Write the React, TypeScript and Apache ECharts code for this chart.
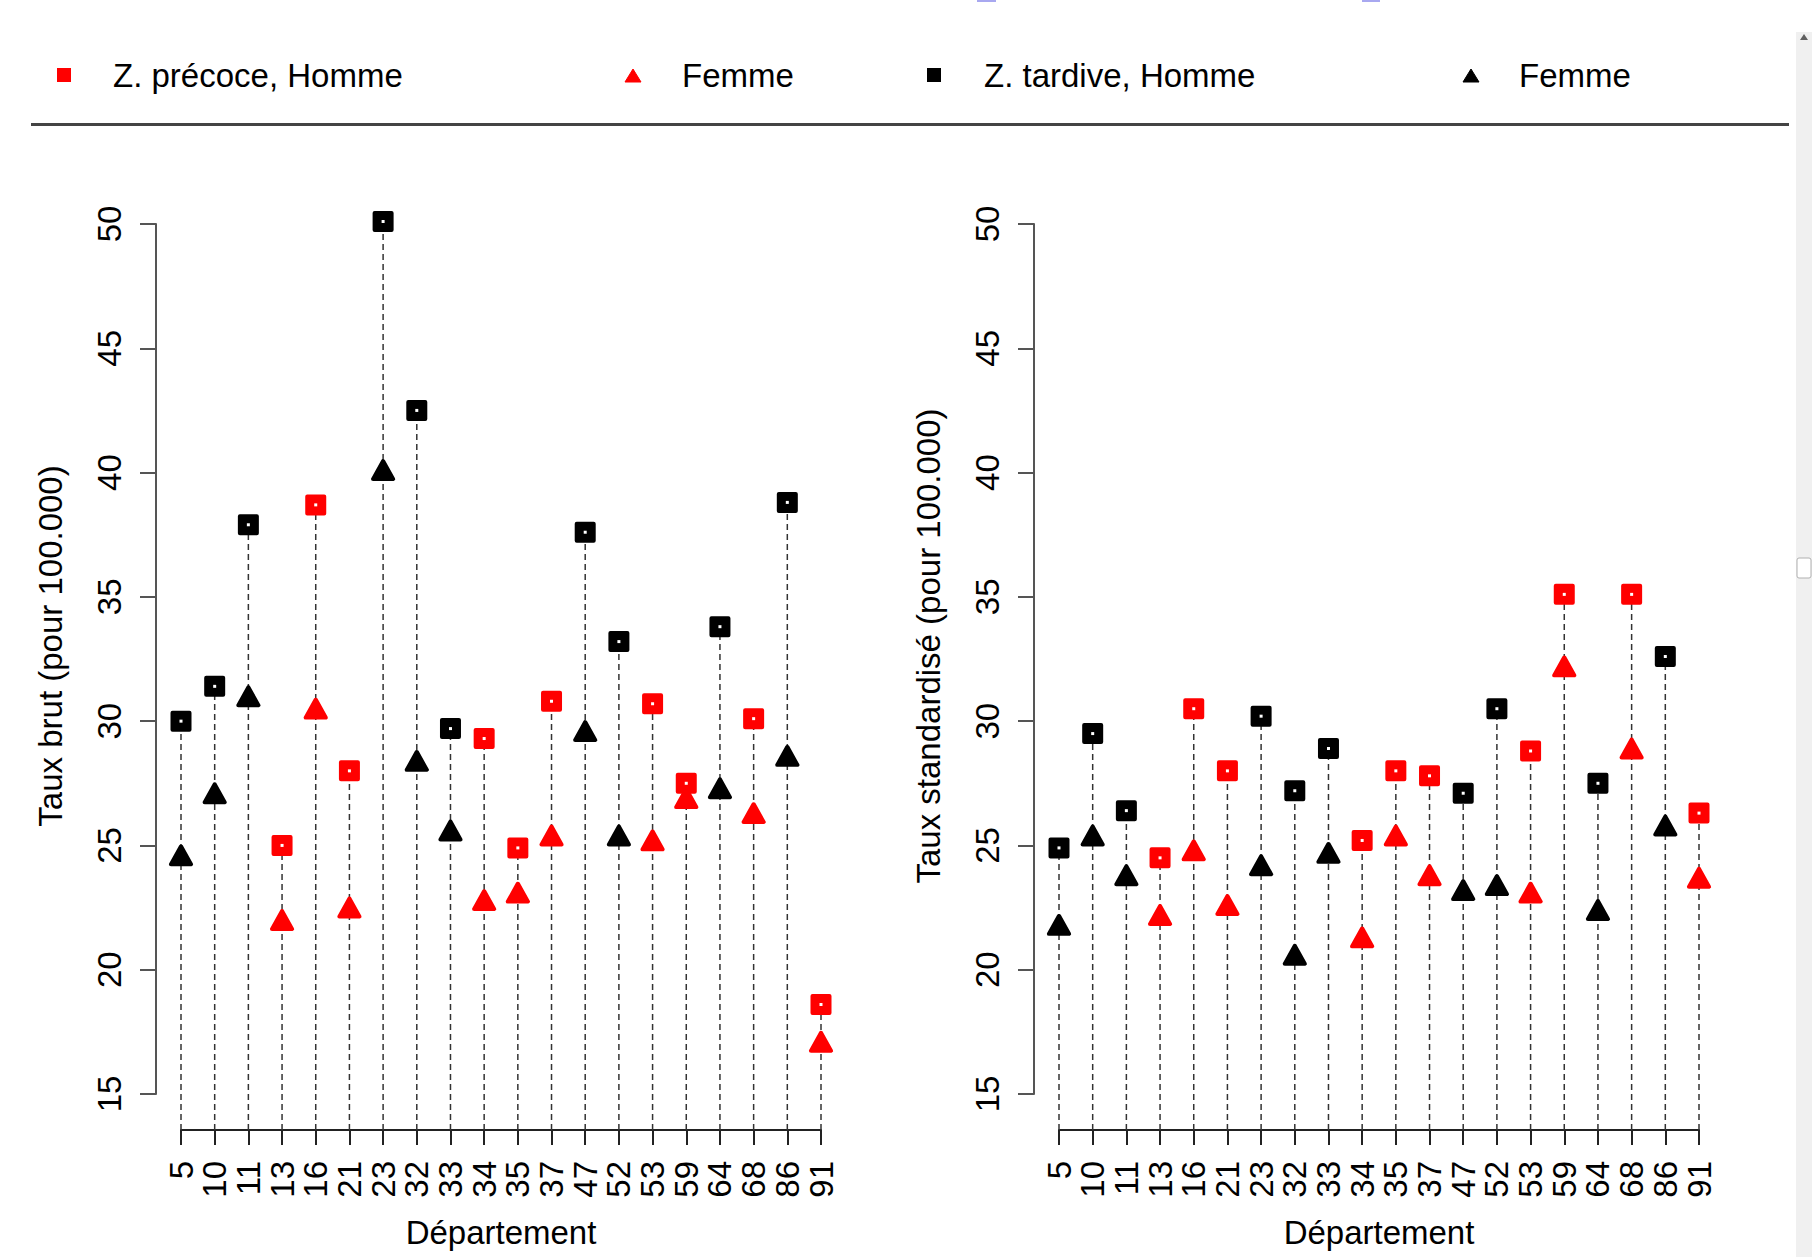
import React, { useEffect, useRef } from "react";
import * as echarts from "echarts";

// ---------- data ----------
const departements = ["5", "10", "11", "13", "16", "21", "23", "32", "33", "34", "35", "37", "47", "52", "53", "59", "64", "68", "86", "91"];
// P = Z. précoce (rouge), T = Z. tardive (noir)
const zones = ["T", "T", "T", "P", "P", "P", "T", "T", "T", "P", "P", "P", "T", "T", "P", "P", "T", "P", "T", "P"];
const tauxBrutHomme = [30.0, 31.4, 37.9, 25.0, 38.7, 28.0, 50.1, 42.5, 29.7, 29.3, 24.9, 30.8, 37.6, 33.2, 30.7, 27.5, 33.8, 30.1, 38.8, 18.6];
const tauxBrutFemme = [24.6, 27.1, 31.0, 22.0, 30.5, 22.5, 40.1, 28.4, 25.6, 22.8, 23.1, 25.4, 29.6, 25.4, 25.2, 26.9, 27.3, 26.3, 28.6, 17.1];
const tauxStdHomme = [24.9, 29.5, 26.4, 24.5, 30.5, 28.0, 30.2, 27.2, 28.9, 25.2, 28.0, 27.8, 27.1, 30.5, 28.8, 35.1, 27.5, 35.1, 32.6, 26.3];
const tauxStdFemme = [21.8, 25.4, 23.8, 22.2, 24.8, 22.6, 24.2, 20.6, 24.7, 21.3, 25.4, 23.8, 23.2, 23.4, 23.1, 32.2, 22.4, 28.9, 25.8, 23.7];
const Y_MIN = 15;
const Y_MAX = 50;
const Y_STEP = 5;
const legendLabels = ["Z. précoce, Homme", "Femme", "Z. tardive, Homme", "Femme"];
const yTitles = ["Taux brut (pour 100.000)", "Taux standardisé (pour 100.000)"];
const xTitle = "Département";

// ---------- style / layout ----------
const RED = "#ff0000";
const BLACK = "#000000";
const FONT = "'Liberation Sans', Arial, Helvetica, sans-serif";
const FS = 33;
const GRID_TOP = 224;
const GRID_H = 870;
const GRID_W = 640;
const GRID_LEFTS = [181, 1059];
const TITLE_X = [50, 928];
const TITLE_Y = 646;
const X_OFFSET = 36;
const Y_OFFSET = 25;
const bottomValue = Y_MIN - (X_OFFSET * (Y_MAX - Y_MIN)) / GRID_H;

function buildOption() {
  const panels = [
    { homme: tauxBrutHomme, femme: tauxBrutFemme },
    { homme: tauxStdHomme, femme: tauxStdFemme },
  ];
  const grid: any[] = [];
  const xAxis: any[] = [];
  const yAxis: any[] = [];
  const series: any[] = [];

  panels.forEach((p, k) => {
    grid.push({ left: GRID_LEFTS[k], top: GRID_TOP, width: GRID_W, height: GRID_H, containLabel: false });
    xAxis.push({
      gridIndex: k,
      type: "category",
      data: departements,
      boundaryGap: false,
      offset: X_OFFSET,
      axisLine: { show: true, lineStyle: { color: "#222", width: 2 } },
      axisTick: { show: true, interval: 0, length: 15, lineStyle: { color: "#222", width: 2 } },
      axisLabel: { interval: 0, rotate: 90, margin: 31, fontSize: FS, color: BLACK, fontFamily: FONT },
      splitLine: { show: false },
      name: xTitle,
      nameLocation: "middle",
      nameGap: 86,
      nameTextStyle: { fontSize: FS, color: BLACK, fontFamily: FONT },
    });
    yAxis.push({
      gridIndex: k,
      type: "value",
      min: Y_MIN,
      max: Y_MAX,
      interval: Y_STEP,
      offset: Y_OFFSET,
      axisLine: { show: true, lineStyle: { color: "#555", width: 2 } },
      axisTick: { show: true, length: 16, lineStyle: { color: "#555", width: 2 } },
      axisLabel: { rotate: 90, margin: 30, fontSize: FS, color: BLACK, fontFamily: FONT },
      splitLine: { show: false },
    });

    // dashed stems from the x axis line up to the higher point
    series.push({
      type: "custom",
      xAxisIndex: k,
      yAxisIndex: k,
      clip: false,
      silent: true,
      z: 1,
      data: departements.map((d, i) => [i, Math.max(p.homme[i], p.femme[i])]),
      renderItem: (params: any, api: any) => {
        const x = api.value(0);
        const top = api.coord([x, api.value(1)]);
        const bot = api.coord([x, bottomValue]);
        return {
          type: "line",
          shape: { x1: bot[0], y1: bot[1], x2: top[0], y2: top[1] },
          style: { stroke: "#333", lineWidth: 1.5, lineDash: [6, 4] },
        };
      },
    });

    const groups = [
      { zone: "P", color: RED, name: "Z. précoce" },
      { zone: "T", color: BLACK, name: "Z. tardive" },
    ];
    groups.forEach((g) => {
      const idx = departements.map((_, i) => i).filter((i) => zones[i] === g.zone);
      series.push({
        type: "scatter",
        name: g.name + ", Homme",
        xAxisIndex: k,
        yAxisIndex: k,
        clip: false,
        z: 3,
        symbol: "rect",
        symbolSize: 17,
        itemStyle: { color: g.color, borderColor: g.color, borderWidth: 4, borderJoin: "round", opacity: 1 },
        data: idx.map((i) => [i, p.homme[i]]),
      });
      series.push({
        type: "scatter",
        name: g.name + ", Femme",
        xAxisIndex: k,
        yAxisIndex: k,
        clip: false,
        z: 3,
        symbol: "triangle",
        symbolSize: [20, 18],
        itemStyle: { color: g.color, borderColor: g.color, borderWidth: 4, borderJoin: "round", opacity: 1 },
        data: idx.map((i) => [i, p.femme[i]]),
      });
      series.push({
        type: "scatter",
        name: g.name + " centre",
        xAxisIndex: k,
        yAxisIndex: k,
        clip: false,
        silent: true,
        z: 4,
        symbol: "rect",
        symbolSize: 3,
        itemStyle: { color: "#ffffff", opacity: 1 },
        data: idx.map((i) => [i, p.homme[i]]),
      });
    });
  });

  const textStyle = (x: number, y: number, text: string) => ({
    type: "text",
    x,
    y,
    style: { text, fill: BLACK, font: `${FS}px ${FONT}`, textAlign: "left", textVerticalAlign: "middle" },
  });
  const tri = (cx: number, color: string) => ({
    type: "polygon",
    shape: { points: [[cx - 8, 82], [cx + 8, 82], [cx, 69]] },
    style: { fill: color, stroke: color, lineWidth: 1, lineJoin: "round" },
  });

  const graphic: any[] = [
    // legend
    { type: "rect", shape: { x: 57, y: 68, width: 14, height: 14 }, style: { fill: RED } },
    textStyle(113, 75, legendLabels[0]),
    tri(633, RED),
    textStyle(682, 75, legendLabels[1]),
    { type: "rect", shape: { x: 927, y: 68, width: 14, height: 14 }, style: { fill: BLACK } },
    textStyle(984, 75, legendLabels[2]),
    tri(1471, BLACK),
    textStyle(1519, 75, legendLabels[3]),
    { type: "line", shape: { x1: 31, y1: 124.5, x2: 1789, y2: 124.5 }, style: { stroke: "#444", lineWidth: 3 } },
    // y axis titles
    ...yTitles.map((t, k) => ({
      type: "text",
      x: TITLE_X[k],
      y: TITLE_Y,
      rotation: Math.PI / 2,
      style: { text: t, fill: BLACK, font: `${FS}px ${FONT}`, textAlign: "center", textVerticalAlign: "middle" },
    })),
    // browser scrollbar strip and top artefacts
    { type: "rect", shape: { x: 1796, y: 32, width: 16, height: 1225 }, style: { fill: "#f0f0f0" } },
    { type: "rect", shape: { x: 1797, y: 558, width: 14, height: 20, r: 2 }, style: { fill: "#ffffff", stroke: "#b0b0b0", lineWidth: 1 } },
    { type: "polygon", shape: { points: [[1800, 40], [1808, 40], [1804, 34]] }, style: { fill: "#606060" } },
    { type: "rect", shape: { x: 977, y: 0, width: 19, height: 2 }, style: { fill: "#a8a8f0" } },
    { type: "rect", shape: { x: 1362, y: 0, width: 18, height: 2 }, style: { fill: "#a8a8f0" } },
  ];

  return {
    animation: false,
    backgroundColor: "#ffffff",
    textStyle: { fontFamily: FONT },
    grid,
    xAxis,
    yAxis,
    series,
    graphic,
  };
}

export default function App() {
  const ref = useRef<HTMLDivElement>(null);
  useEffect(() => {
    document.body.style.margin = "0";
    document.body.style.overflow = "hidden";
    if (!ref.current) return;
    const chart = echarts.init(ref.current, undefined, { renderer: "svg" });
    chart.setOption(buildOption() as any);
    return () => chart.dispose();
  }, []);
  return <div ref={ref} style={{ width: 1812, height: 1257 }} />;
}
